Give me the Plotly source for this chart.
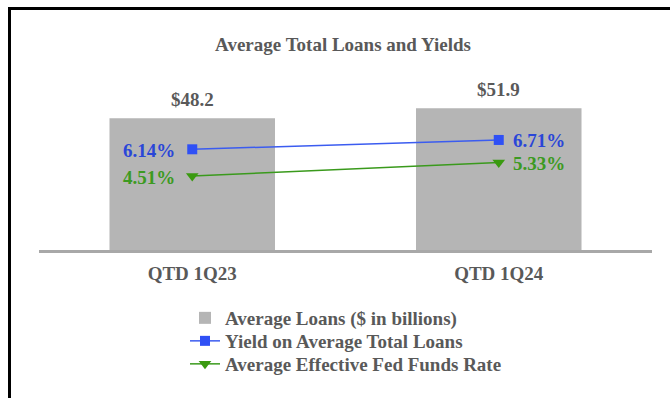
import plotly.graph_objects as go

# ---- data ----
categories = ["QTD 1Q23", "QTD 1Q24"]
avg_loans = [48.2, 51.9]
loan_labels = ["$48.2", "$51.9"]
yield_loans = [6.14, 6.71]
fed_funds = [4.51, 5.33]

GRAY = "#595959"
FONT = "Liberation Serif"
FS = 19
BLUE_LINE = "#3b5cf0"
BLUE_TXT = "#2a46d8"
GREEN_LINE = "#3a9a1c"
GREEN_TXT = "#3c9a22"

fig = go.Figure()
fig.add_trace(go.Bar(
    x=categories, y=avg_loans, name="Average Loans ($ in billions)",
    marker=dict(color="#b5b5b5", line=dict(width=0)), width=0.54,
    legend="legend",
))
fig.add_trace(go.Scatter(
    x=categories, y=yield_loans, yaxis="y2", mode="lines+markers",
    name="Yield on Average Total Loans",
    line=dict(color=BLUE_LINE, width=1.5),
    marker=dict(symbol="square", size=10, color="#2f50f5"),
    legend="legend2",
))
fig.add_trace(go.Scatter(
    x=categories, y=fed_funds, yaxis="y2", mode="lines+markers",
    name="Average Effective Fed Funds Rate",
    line=dict(color=GREEN_LINE, width=1.5),
    marker=dict(symbol="triangle-down", size=11, color="#3a9a10"),
    legend="legend3",
))

annotations = []
for c, v, t in zip(categories, avg_loans, loan_labels):
    annotations.append(dict(
        x=c, y=v, xref="x", yref="y", text=t, showarrow=False,
        yanchor="bottom", yshift=6,
        font=dict(family=FONT, size=FS, color=GRAY, weight="bold"),
    ))
for series, col in ((yield_loans, BLUE_TXT), (fed_funds, GREEN_TXT)):
    for i, (c, v) in enumerate(zip(categories, series)):
        annotations.append(dict(
            x=c, y=v, xref="x", yref="y2", text=f"{v:.2f}%", showarrow=False,
            xanchor="right" if i == 0 else "left",
            xshift=-15 if i == 0 else 12, yshift=-1,
            font=dict(family=FONT, size=FS, color=col, weight="bold"),
        ))

# frame (top and left black border)
L, T, W, H = 39, 86, 613, 164
def px(x):
    return (x - L) / W
def py(y):
    return (T + H - y) / H

shapes = [
    dict(type="line", xref="paper", yref="paper", x0=px(8), x1=px(680),
         y0=py(8.5), y1=py(8.5), line=dict(color="black", width=3)),
    dict(type="line", xref="paper", yref="paper", x0=px(9.5), x1=px(9.5),
         y0=py(7), y1=py(410), line=dict(color="black", width=3)),
]

def leg(center_y):
    return dict(x=px(185), xanchor="left", y=py(center_y), yanchor="middle",
                orientation="v", font=dict(family=FONT, size=FS, color=GRAY, weight="bold"),
                bgcolor="rgba(0,0,0,0)")

fig.update_layout(
    width=670, height=398,
    margin=dict(l=L, r=670 - L - W, t=T, b=398 - T - H, autoexpand=False),
    paper_bgcolor="white", plot_bgcolor="white",
    title=dict(text="Average Total Loans and Yields", x=0.512, xanchor="center",
               y=1 - 44 / 398, yanchor="middle",
               font=dict(family=FONT, size=FS, color=GRAY, weight="bold")),
    xaxis=dict(showline=True, linecolor="#a8a8a8", linewidth=2.5,
               showgrid=False, zeroline=False, ticks="outside", ticklen=4,
               tickcolor="rgba(0,0,0,0)",
               tickfont=dict(family=FONT, size=FS, color=GRAY, weight="bold")),
    yaxis=dict(range=[0, 60], visible=False, showgrid=False),
    yaxis2=dict(range=[0, 10], overlaying="y", visible=False, showgrid=False),
    showlegend=True,
    legend=leg(318),
    legend2=leg(341),
    legend3=leg(364),
    annotations=annotations,
    shapes=shapes,
    bargap=0.46,
)

fig.write_html("out.html")
